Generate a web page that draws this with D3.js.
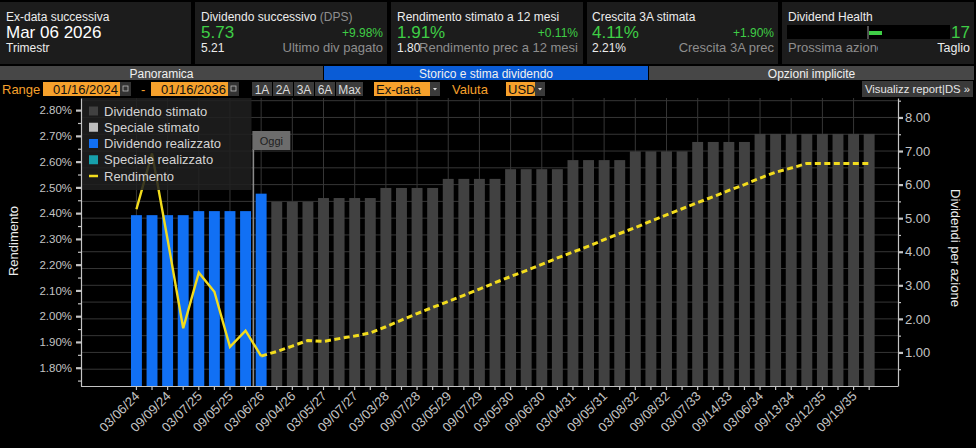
<!DOCTYPE html>
<html>
<head>
<meta charset="utf-8">
<script src="https://cdn.jsdelivr.net/npm/d3@7"></script>
<style>
  html, body { margin:0; padding:0; background:#000; }
  svg { display:block; font-family:"Liberation Sans", Arial, sans-serif; }
</style>
</head>
<body>
<div id="visArea"></div>
<script>

// ex-dates, one per quarter (only every other one is labelled on the axis)
var exDates = ['03/06/24','06/05/24','09/09/24','12/05/24','03/07/25','06/06/25','09/05/25','12/05/25',
  '03/06/26','06/05/26','09/04/26','12/04/26','03/05/27','06/04/27','09/07/27','12/06/27',
  '03/03/28','06/06/28','09/07/28','12/06/28','03/05/29','06/05/29','09/07/29','12/06/29',
  '03/05/30','06/06/30','09/06/30','12/06/30','03/04/31','06/05/31','09/05/31','12/05/31',
  '03/08/32','06/07/32','09/08/32','12/07/32','03/07/33','06/07/33','09/14/33','12/07/33',
  '03/06/34','06/06/34','09/13/34','12/06/34','03/12/35','06/06/35','09/19/35','12/06/35'];

// dividend per share (right axis)
var dividends = [5.09,5.09,5.09,5.09,5.21,5.21,5.21,5.21,
  5.73,5.49,5.49,5.49,5.60,5.60,5.60,5.60,
  5.90,5.90,5.90,5.90,6.17,6.17,6.17,6.17,
  6.46,6.46,6.46,6.46,6.73,6.73,6.73,6.73,
  6.99,6.99,6.99,6.99,7.27,7.27,7.27,7.27,
  7.51,7.51,7.51,7.51,7.51,7.51,7.51,7.51];
var realizedCount = 9;

// yield, % (left axis)
var yieldRealized = [2.415,2.632,2.298,1.953,2.169,2.095,1.881,1.944,1.845];
var yieldEstimated = [1.845,1.863,1.884,1.906,1.902,1.913,1.923,1.935,1.959,1.985,
  2.010,2.034,2.057,2.081,2.105,2.130,2.154,2.177,2.201,2.226,
  2.249,2.272,2.297,2.321,2.344,2.369,2.393,2.417,2.441,2.464,
  2.488,2.511,2.536,2.559,2.575,2.593,2.593,2.593,2.593,2.593];

var yieldTicks = [1.8,1.9,2.0,2.1,2.2,2.3,2.4,2.5,2.6,2.7,2.8];
var yieldMinor = [1.75,1.85,1.95,2.05,2.15,2.25,2.35,2.45,2.55,2.65,2.75,2.85];
var dpsTicks = [1,2,3,4,5,6,7,8];
var dpsMinor = [0.5,1.5,2.5,3.5,4.5,5.5,6.5,7.5,8.5];

var legendLabels = ['Dividendo stimato','Speciale stimato','Dividendo realizzato','Speciale realizzato','Rendimento'];
var legendColors = ['#414141','#bdbdbd','#1170f4','#17a0ab','#f2dc1d'];

var tabs = ['Panoramica','Storico e stima dividendo','Opzioni implicite'];
var rangeButtons = ['1A','2A','3A','6A','Max'];

var COL = { green:'#3fce46', white:'#ececec', gray:'#8e8e8e', orange:'#f6a12c', axis:'#c4c4c4',
            grid:'#363636', blue:'#1170f4', bar:'#414141', yellow:'#f2dc1d', panel:'#1c1c1c' };


function makeVis(){
  var svg = d3.select('#visArea').append('svg')
    .attr('width', 976).attr('height', 448)
    .style('background', '#000');
  drawHeader(svg);
  drawToolbar(svg);
  drawChart(svg);
}


function txt(g, x, y, s, size, fill, anchor){
  return g.append('text').attr('x', x).attr('y', y).text(s)
    .style('font-size', size + 'px').style('fill', fill)
    .style('text-anchor', anchor || 'start');
}


function drawHeader(svg){
  var g = svg.append('g').attr('class', 'header');
  var panels = [[0,191],[195,387],[391,583],[587,778],[782,974]];
  g.selectAll('rect').data(panels).enter().append('rect')
    .attr('x', function(d){ return d[0]; }).attr('y', 2)
    .attr('width', function(d){ return d[1]-d[0]; }).attr('height', 62)
    .attr('fill', COL.panel);

  txt(g, 6, 21, 'Ex-data successiva', 12, COL.white);
  txt(g, 6, 38, 'Mar 06 2026', 17, '#ffffff');
  txt(g, 6, 52, 'Trimestr', 12, COL.white);

  var t = txt(g, 201, 21, 'Dividendo successivo', 12, COL.white);
  t.append('tspan').text(' (DPS)').style('fill', COL.gray);
  txt(g, 201, 38, '5.73', 17, COL.green);
  txt(g, 383, 37, '+9.98%', 12, COL.green, 'end');
  txt(g, 201, 52, '5.21', 12, COL.white);
  txt(g, 383, 52, 'Ultimo div pagato', 13, COL.gray, 'end');

  txt(g, 397, 21, 'Rendimento stimato a 12 mesi', 12, COL.white);
  txt(g, 397, 38, '1.91%', 17, COL.green);
  txt(g, 578, 37, '+0.11%', 12, COL.green, 'end');
  txt(g, 397, 52, '1.80', 12, COL.white);
  txt(g, 578, 52, 'Rendimento prec a 12 mesi', 13, COL.gray, 'end');

  txt(g, 592, 21, 'Crescita 3A stimata', 12, COL.white);
  txt(g, 592, 38, '4.11%', 17, COL.green);
  txt(g, 774, 37, '+1.90%', 12, COL.green, 'end');
  txt(g, 592, 52, '2.21%', 12, COL.white);
  txt(g, 774, 52, 'Crescita 3A prec', 13, COL.gray, 'end');

  txt(g, 788, 21, 'Dividend Health', 12, COL.white);
  g.append('rect').attr('x', 787).attr('y', 25).attr('width', 163).attr('height', 14).attr('fill', '#000');
  g.append('line').attr('x1', 868).attr('x2', 868).attr('y1', 26).attr('y2', 39)
    .style('stroke', '#9a9a9a').style('stroke-width', 1);
  g.append('rect').attr('x', 869).attr('y', 31).attr('width', 13).attr('height', 4).attr('fill', COL.green);
  txt(g, 970, 38, '17', 17, COL.green, 'end');
  g.append('clipPath').attr('id', 'clipHealth').append('rect')
    .attr('x', 782).attr('y', 40).attr('width', 96).attr('height', 20);
  txt(g, 788, 52, 'Prossima azione', 13, COL.gray).attr('clip-path', 'url(#clipHealth)');
  txt(g, 970, 52, 'Taglio', 12.5, COL.white, 'end');

  // tabs
  var tabX = [[0,323],[324,648],[649,974]];
  var tg = svg.append('g').attr('class', 'tabs');
  tg.selectAll('rect').data(tabs).enter().append('rect')
    .attr('x', function(d,i){ return tabX[i][0]; }).attr('y', 66)
    .attr('width', function(d,i){ return tabX[i][1]-tabX[i][0]; }).attr('height', 14)
    .attr('fill', function(d,i){ return i == 1 ? '#0a5cd6' : '#474747'; });
  tg.selectAll('text').data(tabs).enter().append('text')
    .attr('x', function(d,i){ return (tabX[i][0]+tabX[i][1])/2; }).attr('y', 77.5)
    .text(function(d){ return d; })
    .style('text-anchor', 'middle').style('font-size', '12px').style('fill', '#f0f0f0');
}


function calendarBox(g, x){
  g.append('rect').attr('x', x).attr('y', 82).attr('width', 11).attr('height', 14).attr('fill', '#333');
  g.append('rect').attr('x', x+3).attr('y', 86).attr('width', 5).attr('height', 5)
    .attr('fill', 'none').style('stroke', '#bbb').style('stroke-width', 0.8);
}

function dropArrow(g, x){
  g.append('rect').attr('x', x).attr('y', 82).attr('width', 10).attr('height', 14).attr('fill', '#3a3a3a');
  g.append('path').attr('d', 'M' + (x+3) + ',88 L' + (x+7) + ',88 L' + (x+5) + ',90.5 Z').attr('fill', '#ddd');
}


function drawToolbar(svg){
  var g = svg.append('g').attr('class', 'toolbar');
  txt(g, 2, 94, 'Range', 13, COL.orange);
  g.append('rect').attr('x', 43).attr('y', 82).attr('width', 77).attr('height', 14).attr('fill', COL.orange);
  txt(g, 118, 94, '01/16/2024', 13, '#111', 'end');
  calendarBox(g, 120);
  txt(g, 141, 94, '-', 13, COL.orange);
  g.append('rect').attr('x', 151).attr('y', 82).attr('width', 77).attr('height', 14).attr('fill', COL.orange);
  txt(g, 226, 94, '01/16/2036', 13, '#111', 'end');
  calendarBox(g, 228);

  var bx = [[252,272],[273,293],[294,314],[315,335],[336,363]];
  g.selectAll('rect.btn').data(rangeButtons).enter().append('rect').attr('class', 'btn')
    .attr('x', function(d,i){ return bx[i][0]; }).attr('y', 82)
    .attr('width', function(d,i){ return bx[i][1]-bx[i][0]; }).attr('height', 14)
    .attr('fill', '#3b3b3b');
  g.selectAll('text.btn').data(rangeButtons).enter().append('text').attr('class', 'btn')
    .attr('x', function(d,i){ return (bx[i][0]+bx[i][1])/2; }).attr('y', 93.5)
    .text(function(d){ return d; })
    .style('text-anchor', 'middle').style('font-size', '12px').style('fill', '#dcdcdc');

  g.append('rect').attr('x', 374).attr('y', 82).attr('width', 56).attr('height', 14).attr('fill', COL.orange);
  txt(g, 376, 94, 'Ex-data', 13, '#111');
  dropArrow(g, 430);
  txt(g, 452, 94, 'Valuta', 13, COL.orange);
  g.append('rect').attr('x', 506).attr('y', 82).attr('width', 29).attr('height', 14).attr('fill', COL.orange);
  txt(g, 508, 94, 'USD', 13, '#111');
  dropArrow(g, 535);

  g.append('rect').attr('x', 862).attr('y', 81).attr('width', 111).attr('height', 16).attr('fill', '#3a3a3a');
  txt(g, 865, 93, 'Visualizz report|DS »', 11.5, '#e6e6e6')
    .attr('textLength', 105).attr('lengthAdjust', 'spacingAndGlyphs');
}


function drawChart(svg){
  var PL = 81, PR = 898, PT = 98, PB = 386;

  var x = d3.scaleBand().domain(exDates).range([126.3, 879.3]).paddingInner(0.3).paddingOuter(0.3);
  var cx = function(i){ return x(exDates[i]) + x.bandwidth()/2; };
  var yL = d3.scaleLinear().domain([1.729, 2.847]).range([PB, PT]);
  var yR = d3.scaleLinear().domain([0, 8.58]).range([PB, PT]);

  // grid
  var grid = svg.append('g').attr('class', 'grid');
  grid.selectAll('line.h').data(dpsMinor.concat(dpsTicks)).enter().append('line').attr('class', 'h')
    .attr('x1', PL).attr('x2', PR)
    .attr('y1', function(d){ return yR(d); }).attr('y2', function(d){ return yR(d); })
    .style('stroke', COL.grid).style('stroke-width', 1);
  grid.selectAll('line.v').data(exDates.filter(function(d,i){ return i%2 == 0; })).enter()
    .append('line').attr('class', 'v')
    .attr('x1', function(d){ return x(d) + x.bandwidth()/2; })
    .attr('x2', function(d){ return x(d) + x.bandwidth()/2; })
    .attr('y1', PT).attr('y2', PB)
    .style('stroke', COL.grid).style('stroke-width', 1);

  // bars
  svg.append('g').attr('class', 'bars').selectAll('rect')
    .data(dividends).enter().append('rect')
    .attr('x', function(d,i){ return x(exDates[i]); })
    .attr('y', function(d){ return yR(d); })
    .attr('width', x.bandwidth())
    .attr('height', function(d){ return PB - yR(d); })
    .attr('fill', function(d,i){ return i < realizedCount ? COL.blue : COL.bar; });

  // "Oggi" marker, between the last paid and the next ex-date
  var today = (cx(7) + cx(8)) / 2;
  var og = svg.append('g').attr('class', 'today');
  og.append('line').attr('x1', today).attr('x2', today).attr('y1', 149).attr('y2', PB)
    .style('stroke', '#8a8a8a').style('stroke-width', 1.6);
  og.append('rect').attr('x', today - 1).attr('y', 131).attr('width', 38).attr('height', 19).attr('fill', '#6c6c6c');
  txt(og, today + 18, 145, 'Oggi', 11, '#1e1e1e', 'middle');

  // yield lines
  var line = d3.line()
    .x(function(d){ return cx(d.i); })
    .y(function(d){ return yL(d.v); });
  var realized = yieldRealized.map(function(v,i){ return { i: i, v: v }; });
  var estimated = yieldEstimated.map(function(v,i){ return { i: i + realizedCount - 1, v: v }; });
  svg.append('path').datum(realized).attr('d', line)
    .attr('fill', 'none').style('stroke', COL.yellow).style('stroke-width', 2.4);
  svg.append('path').datum(estimated).attr('d', line)
    .attr('fill', 'none').style('stroke', COL.yellow).style('stroke-width', 3)
    .style('stroke-dasharray', '6,3.5');

  // legend
  var lg = svg.append('g').attr('class', 'legend');
  lg.append('rect').attr('x', PL + 0.5).attr('y', PT).attr('width', 170).attr('height', 92)
    .attr('fill', '#202020').style('opacity', 0.86);
  legendLabels.forEach(function(l, i){
    var yy = 111 + i * 16.25;
    if (i < 4) {
      lg.append('rect').attr('x', 89).attr('y', yy - 4.5).attr('width', 9).attr('height', 9).attr('fill', legendColors[i]);
    } else {
      lg.append('line').attr('x1', 89).attr('x2', 98).attr('y1', yy).attr('y2', yy)
        .style('stroke', legendColors[i]).style('stroke-width', 2.5);
    }
    txt(lg, 104, yy + 4.5, l, 13, '#d4d4d4');
  });

  // axes
  var axL = svg.append('g').attr('transform', 'translate(' + PL + ',0)')
    .call(d3.axisLeft(yL).tickValues(yieldTicks).tickSize(5).tickSizeOuter(0).tickPadding(4)
      .tickFormat(function(d){ return d.toFixed(2) + '%'; }));
  svg.append('g').attr('transform', 'translate(' + PL + ',0)')
    .call(d3.axisLeft(yL).tickValues(yieldMinor.filter(function(d){ return yL(d) > PT; }))
      .tickSize(3).tickSizeOuter(0).tickFormat(''))
    .select('.domain').remove();

  var axR = svg.append('g').attr('transform', 'translate(' + PR + ',0)')
    .call(d3.axisRight(yR).tickValues(dpsTicks).tickSize(5).tickSizeOuter(0).tickPadding(2)
      .tickFormat(function(d){ return d.toFixed(2); }));
  svg.append('g').attr('transform', 'translate(' + PR + ',0)')
    .call(d3.axisRight(yR).tickValues(dpsMinor).tickSize(3).tickSizeOuter(0).tickFormat(''))
    .select('.domain').remove();

  var axB = svg.append('g').attr('transform', 'translate(0,' + PB + ')')
    .call(d3.axisBottom(x).tickSize(4).tickSizeOuter(0)
      .tickFormat(function(d,i){ return i % 2 == 0 ? d : ''; }));
  axB.select('.domain').attr('d', 'M' + PL + ',0.5H' + PR);
  axB.selectAll('text')
    .attr('y', 0).attr('dy', 0)
    .attr('transform', 'translate(4,11) rotate(-45)')
    .style('text-anchor', 'end').style('font-size', '13px');

  svg.selectAll('.domain').style('stroke', COL.axis).style('stroke-width', 1.2);
  svg.selectAll('.tick line').style('stroke', COL.axis).style('stroke-width', 1.2);
  axL.selectAll('.tick line').style('stroke-width', 2.2);
  axR.selectAll('.tick line').style('stroke-width', 2.2);
  svg.selectAll('.tick text').style('fill', COL.axis).style('font-family', '"Liberation Sans", Arial, sans-serif');
  axL.selectAll('text').style('font-size', '11.5px');
  axR.selectAll('text').style('font-size', '13px');

  // axis titles
  svg.append('text').attr('transform', 'translate(18,241) rotate(-90)').text('Rendimento')
    .style('text-anchor', 'middle').style('font-size', '13px').style('fill', COL.white);
  svg.append('text').attr('transform', 'translate(951,248) rotate(90)').text('Dividendi per azione')
    .style('text-anchor', 'middle').style('font-size', '13px').style('fill', COL.white);
}


makeVis();
</script>
</body>
</html>
